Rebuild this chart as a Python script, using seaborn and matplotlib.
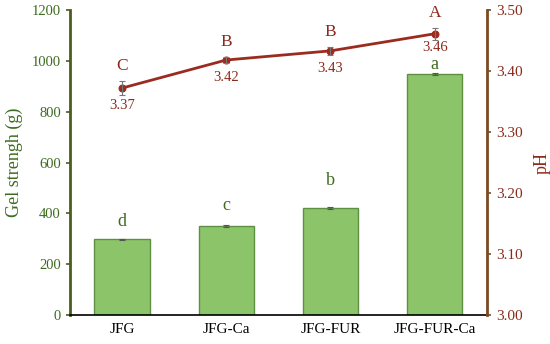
import numpy as np
import pandas as pd
import matplotlib
matplotlib.use("Agg")
import matplotlib.pyplot as plt
import seaborn as sns

categories = ["JFG", "JFG-Ca", "JFG-FUR", "JFG-FUR-Ca"]
gel_strength = [298, 350, 421, 948]
gel_err = [3, 4, 5, 4]
gel_letters = ["d", "c", "b", "a"]
ph_values = [3.372, 3.418, 3.433, 3.461]
ph_err = [0.012, 0.005, 0.006, 0.01]
ph_letters = ["C", "B", "B", "A"]
ph_labels = ["3.37", "3.42", "3.43", "3.46"]
left_ticks = [0, 200, 400, 600, 800, 1000, 1200]
right_ticks = [3.00, 3.10, 3.20, 3.30, 3.40, 3.50]

sns.set_theme(style="white")
plt.rcParams["font.family"] = ["Liberation Serif", "DejaVu Serif"]

green_txt = "#3d6b1f"
green_spine = "#4b5e1e"
red_txt = "#8b2a1a"
brown_spine = "#7a4a22"
bar_color = "#8cc46a"
line_color = "#9c2b1f"

fig = plt.figure(figsize=(5.5, 3.44), dpi=100)
ax = fig.add_axes([0.127, 0.084, 0.758, 0.887])

df = pd.DataFrame({"cat": categories, "gel": gel_strength})
sns.barplot(data=df, x="cat", y="gel", ax=ax, color=bar_color, width=0.53,
            edgecolor="#5f8f43", linewidth=1.0, saturation=1)
x = np.arange(len(categories))
ax.errorbar(x, gel_strength, yerr=gel_err, fmt="none", ecolor="#555555",
            elinewidth=0.8, capsize=2, capthick=0.8)
letter_offsets = [6, 8, 13, 0]
for xi, v, e, t, off in zip(x, gel_strength, gel_err, gel_letters, letter_offsets):
    ax.annotate(t, (xi, v + e), xytext=(0, off), textcoords="offset points",
                ha="center", va="bottom", fontsize=13, color=green_txt)

ax.set_ylim(0, 1200)
ax.set_yticks(left_ticks)
ax.set_xlim(-0.5, 3.5)
ax.set_xlabel("")
ax.set_ylabel("Gel strengh (g)", fontsize=13, color=green_txt, labelpad=6)
ax.tick_params(axis="y", colors=green_txt, labelsize=10.5, direction="out",
               length=3, width=1.2, left=True)
ax.tick_params(axis="x", labelsize=11, colors="black", length=0, pad=6)
for lab in ax.get_yticklabels():
    lab.set_color(green_txt)
ax.spines["left"].set_color(green_spine)
ax.spines["left"].set_linewidth(2)
ax.spines["bottom"].set_color("black")
ax.spines["bottom"].set_linewidth(1.2)
ax.spines["top"].set_visible(False)
ax.spines["right"].set_visible(False)
ax.tick_params(axis="y", color=green_spine)

ax2 = ax.twinx()
sns.lineplot(x=x, y=ph_values, ax=ax2, color=line_color, linewidth=2,
             marker="o", markersize=5, markeredgecolor=line_color)
ax2.errorbar(x, ph_values, yerr=ph_err, fmt="none", ecolor="#777777",
             elinewidth=0.8, capsize=2, capthick=0.8)
value_offsets = [-8, -8, -8, -5]
for xi, v, e, t, lab, off in zip(x, ph_values, ph_err, ph_letters, ph_labels, value_offsets):
    ax2.annotate(t, (xi, v + e), xytext=(0, 5), textcoords="offset points",
                 ha="center", va="bottom", fontsize=12.5, color=red_txt)
    ax2.annotate(lab, (xi, v), xytext=(0, off), textcoords="offset points",
                 ha="center", va="top", fontsize=10.5, color=red_txt)
ax2.set_ylim(3.0, 3.5)
ax2.set_yticks(right_ticks)
ax2.set_yticklabels([f"{t:.2f}" for t in right_ticks])
ax2.set_ylabel("pH", fontsize=13, color=red_txt, labelpad=8)
ax2.tick_params(axis="y", labelcolor=red_txt, color=brown_spine, labelsize=11,
                direction="out", length=3, width=1.2, right=True)
ax2.spines["right"].set_color(brown_spine)
ax2.spines["right"].set_linewidth(2)
ax2.spines["left"].set_visible(False)
ax2.spines["top"].set_visible(False)
ax2.spines["bottom"].set_visible(False)
ax2.set_xlim(-0.5, 3.5)

fig.savefig("out.png", dpi=100)
